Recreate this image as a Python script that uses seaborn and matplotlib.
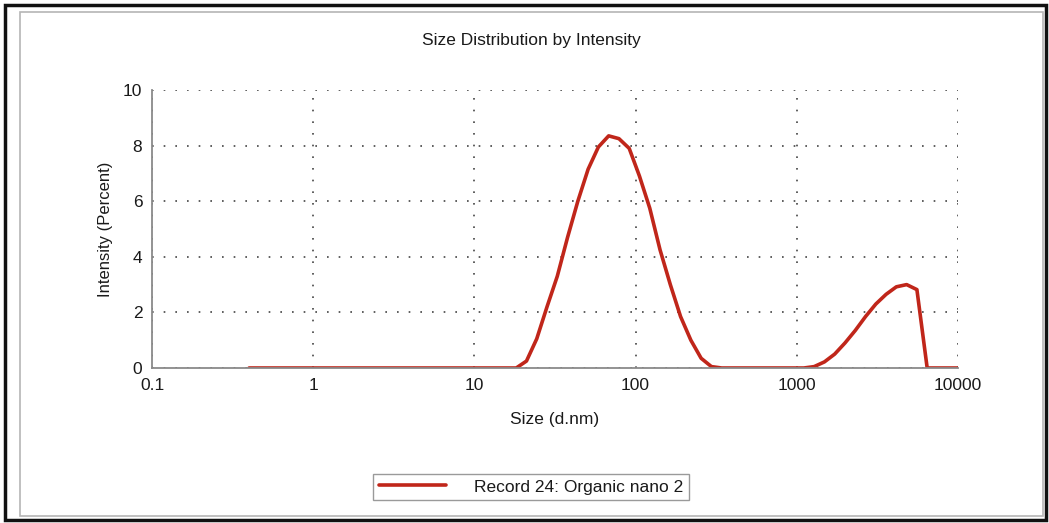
import matplotlib
matplotlib.use("Agg")
import matplotlib.pyplot as plt
from matplotlib.patches import Rectangle
from matplotlib.ticker import FixedLocator, NullFormatter, LogLocator
import seaborn as sns
import pandas as pd

# Size bins (d.nm) and intensity (%) for the record
sizes = [0.4000, 0.4632, 0.5365, 0.6213, 0.7195, 0.8332, 0.9649, 1.117, 1.294, 1.499,
         1.736, 2.010, 2.328, 2.696, 3.122, 3.615, 4.187, 4.849, 5.615, 6.503,
         7.531, 8.721, 10.10, 11.70, 13.54, 15.69, 18.17, 21.04, 24.36, 28.21,
         32.67, 37.84, 43.82, 50.75, 58.77, 68.06, 78.82, 91.28, 105.7, 122.4,
         141.8, 164.2, 190.1, 220.2, 255.0, 295.3, 342.0, 396.1, 458.7, 531.2,
         615.1, 712.4, 825.0, 955.4, 1106, 1281, 1484, 1718, 1990, 2305,
         2669, 3091, 3580, 4145, 4801, 5560, 6439, 7456, 8635, 10000]
intensity = [0, 0, 0, 0, 0, 0, 0, 0, 0, 0,
             0, 0, 0, 0, 0, 0, 0, 0, 0, 0,
             0, 0, 0, 0, 0, 0, 0, 0.25, 1.05, 2.2,
             3.3, 4.7, 6.0, 7.15, 7.95, 8.35, 8.25, 7.9, 6.9, 5.75,
             4.25, 3.0, 1.85, 1.0, 0.35, 0.05, 0, 0, 0, 0,
             0, 0, 0, 0, 0, 0.05, 0.22, 0.5, 0.9, 1.35,
             1.85, 2.3, 2.65, 2.92, 3.0, 2.82, 0, 0, 0, 0]
record_label = "Record 24: Organic nano 2"
x_ticks = [0.1, 1, 10, 100, 1000, 10000]
x_tick_labels = ["0.1", "1", "10", "100", "1000", "10000"]
y_ticks = [0, 2, 4, 6, 8, 10]

df = pd.DataFrame({"size": sizes, "intensity": intensity})

sns.set_style("white")
plt.rcParams["font.family"] = ["Liberation Sans", "DejaVu Sans"]

W, H = 1049, 523
fig = plt.figure(figsize=(W / 100, H / 100), dpi=100, facecolor="white")
ax = fig.add_axes([152 / W, 1 - 368 / H, (958 - 152) / W, (368 - 90) / H])

sns.lineplot(data=df, x="size", y="intensity", ax=ax, color="#c0261a",
             linewidth=2.6, label=record_label, legend=False)
for line in ax.get_lines():
    line.set_solid_joinstyle("round")
    line.set_solid_capstyle("round")

ax.set_xscale("log")
ax.set_xlim(0.1, 10000)
ax.set_ylim(0, 10)

ax.xaxis.set_major_locator(FixedLocator(x_ticks))
ax.set_xticklabels(x_tick_labels)
ax.xaxis.set_minor_locator(LogLocator(base=10, subs=range(2, 10)))
ax.xaxis.set_minor_formatter(NullFormatter())
ax.yaxis.set_major_locator(FixedLocator(y_ticks))
ax.yaxis.set_minor_locator(FixedLocator([1, 3, 5, 7, 9]))

ax.grid(True, which="major", linestyle=(0, (1, 6)), color="#444444", linewidth=1.2)
ax.set_axisbelow(True)

for side in ("top", "right"):
    ax.spines[side].set_visible(False)
for side in ("left", "bottom"):
    ax.spines[side].set_color("#8a8a8a")
    ax.spines[side].set_linewidth(1.3)

ax.tick_params(axis="both", which="major", direction="inout", length=6,
               width=1, color="#8a8a8a", labelsize=12.5, labelcolor="#1a1a1a", pad=4)
ax.tick_params(axis="both", which="minor", direction="inout", length=4,
               width=0.8, color="#8a8a8a")

ax.set_xlabel("Size (d.nm)", fontsize=12.5, color="#1a1a1a", labelpad=14)
ax.set_ylabel("Intensity (Percent)", fontsize=12, color="#1a1a1a", labelpad=7)

fig.text(531 / W, 1 - 40 / H, "Size Distribution by Intensity", ha="center",
         va="center", fontsize=12.5, color="#1a1a1a")

handles, labels = ax.get_legend_handles_labels()
leg = fig.legend(handles, labels, loc="center", bbox_to_anchor=(531 / W, 1 - 487 / H),
                 fontsize=12.5, frameon=True, fancybox=False, framealpha=1,
                 edgecolor="#9a9a9a", handlelength=3.9, handletextpad=1.6,
                 borderpad=0.3)
leg.get_frame().set_linewidth(1.0)
for t in leg.get_texts():
    t.set_color("#1a1a1a")

# Outer dark border and inner light frame
fig.patches.append(Rectangle((5 / W, 1 - 520 / H), (1046 - 5) / W, (520 - 5) / H,
                             transform=fig.transFigure, fill=False,
                             edgecolor="#111111", linewidth=2.5))
fig.patches.append(Rectangle((20 / W, 1 - 516 / H), (1043 - 20) / W, (516 - 12) / H,
                             transform=fig.transFigure, fill=False,
                             edgecolor="#b5b5b5", linewidth=1.2))

fig.savefig("out.png", dpi=100, facecolor="white")
